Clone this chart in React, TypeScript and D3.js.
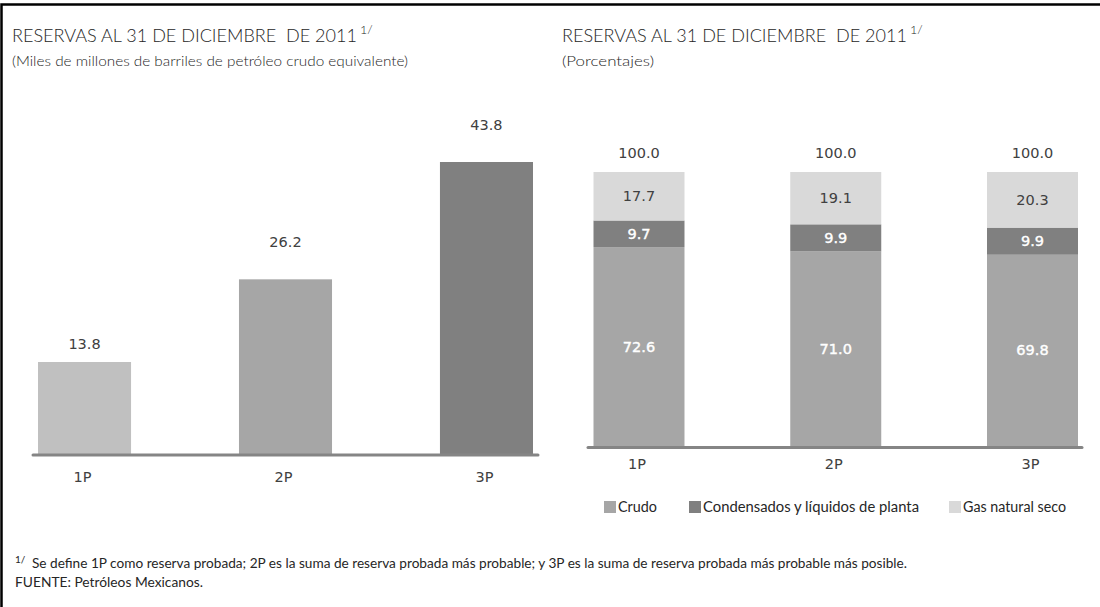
import React from "react";
import * as d3 from "d3";

const categories = ["1P", "2P", "3P"];
const totals = [13.8, 26.2, 43.8];
const crudo = [72.6, 71.0, 69.8];
const condensados = [9.7, 9.9, 9.9];
const gasNatural = [17.7, 19.1, 20.3];
const pctTotals = [100.0, 100.0, 100.0];
const seriesNames = ["Crudo", "Condensados y líquidos de planta", "Gas natural seco"];
const titleText = "RESERVAS AL 31 DE DICIEMBRE  DE 2011";
const subtitleLeft = "(Miles de millones de barriles de petróleo crudo equivalente)";
const subtitleRight = "(Porcentajes)";
const footnote = "Se define 1P como reserva probada; 2P es la suma de reserva probada más probable; y 3P es la suma de reserva probada más probable más posible.";
const source = "FUENTE: Petróleos Mexicanos.";

const leftColors = ["#c0c0c0", "#a6a6a6", "#808080"];
const segColors = ["#a6a6a6", "#808080", "#d9d9d9"];
const leftLabelOffsets = [18, 37, 37];
const legendX = [604, 689, 949];
const legendWidths = [39, 216, 103];

const SANS = "Lato, 'Open Sans', sans-serif";
const NUM = "'DejaVu Sans', Verdana, sans-serif";

export default function App() {
  const W = 1100, H = 607;

  const xL = d3.scaleBand<string>().domain(categories).range([38, 533]).paddingInner(0.537).paddingOuter(0);
  const yL = d3.scaleLinear().domain([0, 43.8]).range([454, 162]);

  const xR = d3.scaleBand<string>().domain(categories).range([593.5, 1078]).paddingInner(0.5375).paddingOuter(0);
  const yR = d3.scaleLinear().domain([0, 100]).range([446, 172]);

  const stackData = categories.map((c, i) => ({ cat: c, crudo: crudo[i], cond: condensados[i], gas: gasNatural[i] }));
  const stack = d3.stack<any>().keys(["crudo", "cond", "gas"])(stackData);

  return (
    <svg width={W} height={H} style={{ position: "absolute", left: 0, top: 0, background: "#fff" }}>
      <rect x={0} y={0} width={W} height={H} fill="#fff" />
      <path d={`M1.5,${H} V4.5 H${W}`} fill="none" stroke="#000" strokeWidth={2.5} />

      {[12, 562].map((tx, k) => (
        <g key={k}>
          <text x={tx} y={42} fontFamily={SANS} fontWeight={300} fontSize={17.5} fill="#262626"
            textLength={345} lengthAdjust="spacingAndGlyphs" style={{ whiteSpace: "pre" }}>
            {titleText}
          </text>
          <text x={tx + 348} y={34} fontFamily={SANS} fontWeight={300} fontSize={12.5} fill="#262626">1/</text>
          <text x={tx} y={66} fontFamily={SANS} fontWeight={300} fontSize={14.5} fill="#262626"
            textLength={k === 0 ? 396 : 92} lengthAdjust="spacingAndGlyphs">
            {k === 0 ? subtitleLeft : subtitleRight}
          </text>
        </g>
      ))}

      {categories.map((c, i) => (
        <g key={c}>
          <rect x={xL(c)} y={yL(totals[i])} width={xL.bandwidth()} height={yL(0) - yL(totals[i])} fill={leftColors[i]} />
          <text x={xL(c)! + xL.bandwidth() / 2} y={yL(totals[i]) - leftLabelOffsets[i]} dy="0.35em" textAnchor="middle" fontFamily={NUM} fontSize={14.5} fill="#404040">
            {totals[i].toFixed(1)}
          </text>
          <text x={xL(c)! + xL.bandwidth() / 2 - 2} y={477} dy="0.35em" textAnchor="middle" fontFamily={NUM} fontSize={14.5} fill="#404040">
            {c}
          </text>
        </g>
      ))}
      <line x1={33} x2={538} y1={455} y2={455} stroke="#858585" strokeWidth={3} strokeLinecap="round" />

      {stack.map((s, si) => (
        <g key={si}>
          {s.map((d, i) => {
            const c = categories[i];
            const y0 = yR(d[1]), y1 = yR(d[0]);
            const val = d[1] - d[0];
            const white = si < 2;
            return (
              <g key={c}>
                <rect x={xR(c)} y={y0} width={xR.bandwidth()} height={y1 - y0} fill={segColors[si]} />
                <text x={xR(c)! + xR.bandwidth() / 2} y={(y0 + y1) / 2} dy="0.35em" textAnchor="middle" fontFamily={NUM} fontSize={14.5}
                  fill={white ? "#fff" : "#404040"} stroke={white ? "#fff" : "none"} strokeWidth={white ? 0.4 : 0}>
                  {val.toFixed(1)}
                </text>
              </g>
            );
          })}
        </g>
      ))}
      {categories.map((c, i) => (
        <g key={c}>
          <text x={xR(c)! + xR.bandwidth() / 2} y={yR(pctTotals[i]) - 19} dy="0.35em" textAnchor="middle" fontFamily={NUM} fontSize={14.5} fill="#404040">
            {pctTotals[i].toFixed(1)}
          </text>
          <text x={xR(c)! + xR.bandwidth() / 2 - 2} y={464} dy="0.35em" textAnchor="middle" fontFamily={NUM} fontSize={14.5} fill="#404040">
            {c}
          </text>
        </g>
      ))}
      <line x1={588} x2={1082} y1={447.5} y2={447.5} stroke="#858585" strokeWidth={3} strokeLinecap="round" />

      {seriesNames.map((n, i) => (
        <g key={n}>
          <rect x={legendX[i]} y={501} width={12} height={12} fill={segColors[i]} />
          <text x={legendX[i] + 14} y={507} dy="0.35em" fontFamily={SANS} fontSize={14.5} fill="#262626"
            textLength={legendWidths[i]} lengthAdjust="spacingAndGlyphs">{n}</text>
        </g>
      ))}

      <text x={15} y={563} fontFamily={SANS} fontSize={10} fill="#262626">1/</text>
      <text x={32} y={568} fontFamily={SANS} fontSize={13} fill="#262626" textLength={875} lengthAdjust="spacingAndGlyphs">{footnote}</text>
      <text x={15} y={587} fontFamily={SANS} fontSize={13} fill="#262626" textLength={188} lengthAdjust="spacingAndGlyphs">{source}</text>
    </svg>
  );
}
